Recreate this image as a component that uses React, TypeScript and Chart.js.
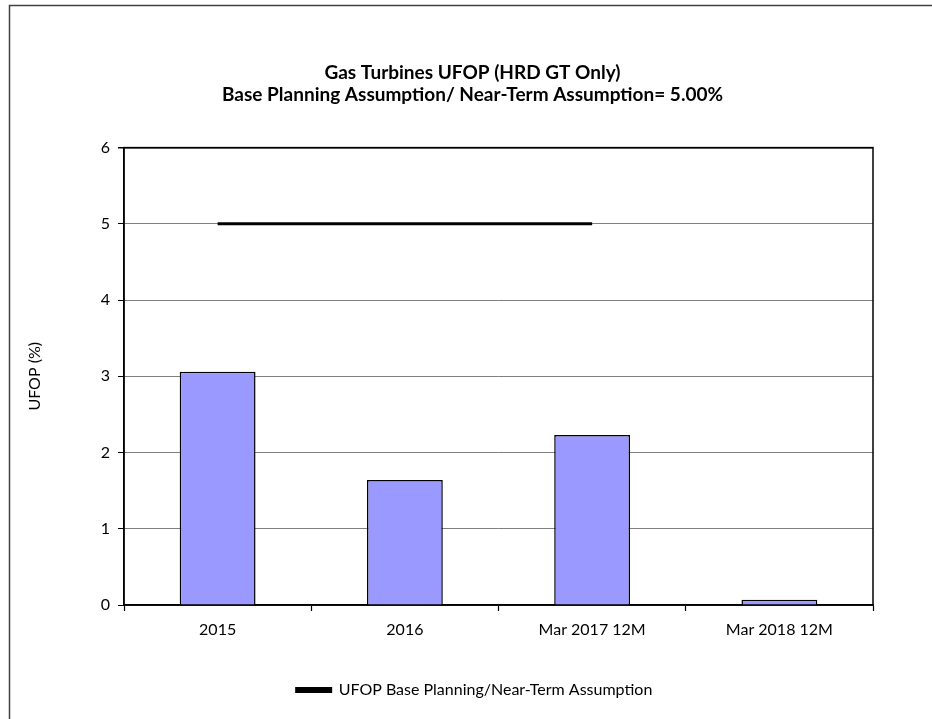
import React, { useEffect, useRef } from "react";
import { Chart, registerables } from "chart.js";

Chart.register(...registerables);

const categories = ["2015", "2016", "Mar 2017 12M", "Mar 2018 12M"];
const ufopValues = [3.06, 1.64, 2.23, 0.07];
const assumptionValues: (number | null)[] = [5, 5, 5, null];
const titleLines = [
  "Gas Turbines UFOP (HRD GT Only)",
  "Base Planning Assumption/ Near-Term Assumption= 5.00%",
];
const yTitle = "UFOP (%)";
const lineLabel = "UFOP Base Planning/Near-Term Assumption";

const FONT = "Lato, 'Open Sans', sans-serif";

const framePlugin = {
  id: "frame",
  afterLayout(chart: any) {
    if (chart.legend) {
      chart.legend.left += 28;
      chart.legend.right += 28;
    }
    if (chart.titleBlock) {
      chart.titleBlock.left += 26;
      chart.titleBlock.right += 26;
    }
  },
  beforeDraw(chart: any) {
    const ctx = chart.ctx;
    ctx.save();
    ctx.fillStyle = "#ffffff";
    ctx.fillRect(0, 0, chart.width, chart.height);
    ctx.strokeStyle = "#404040";
    ctx.lineWidth = 1.5;
    ctx.beginPath();
    ctx.moveTo(9.5, chart.height + 5);
    ctx.lineTo(9.5, 5.5);
    ctx.lineTo(chart.width + 5, 5.5);
    ctx.stroke();
    ctx.restore();
  },
  beforeDatasetsDraw(chart: any) {
    const { ctx, chartArea } = chart;
    ctx.save();
    ctx.strokeStyle = "#000000";
    ctx.lineWidth = 1.5;
    ctx.strokeRect(chartArea.left, chartArea.top, chartArea.right - chartArea.left, chartArea.bottom - chartArea.top);
    ctx.restore();
  },
};

export default function App() {
  const ref = useRef<HTMLCanvasElement | null>(null);
  useEffect(() => {
    if (!ref.current) return;
    const chart = new Chart(ref.current, {
      type: "bar",
      data: {
        labels: categories,
        datasets: [
          {
            type: "line",
            label: lineLabel,
            data: assumptionValues,
            borderColor: "#000000",
            backgroundColor: "#000000",
            borderWidth: 3,
            pointRadius: 0,
            spanGaps: false,
            order: 0,
          } as any,
          {
            type: "bar",
            label: "UFOP",
            data: ufopValues,
            backgroundColor: "#9999FF",
            borderColor: "#000000",
            borderWidth: 1.5,
            barPercentage: 0.405,
            categoryPercentage: 1,
            order: 1,
          } as any,
        ],
      },
      options: {
        animation: false,
        responsive: false,
        maintainAspectRatio: false,
        layout: { padding: { left: 20, right: 59, top: 4, bottom: 11 } },
        plugins: {
          title: {
            display: true,
            text: titleLines,
            color: "#000000",
            font: { family: FONT, size: 19, weight: "bold" },
            lineHeight: 1.3,
            padding: { top: 57, bottom: 41 },
          },
          legend: {
            display: true,
            position: "bottom",
            labels: {
              color: "#000000",
              font: { family: FONT, size: 16 },
              boxWidth: 34,
              boxHeight: 3,
              padding: 10,
              filter: (item: any) => item.text === lineLabel,
            },
          },
          tooltip: { enabled: false },
        },
        scales: {
          x: {
            offset: true,
            grid: {
              display: true,
              offset: true,
              drawOnChartArea: false,
              drawTicks: true,
              tickLength: 6,
              tickColor: "#000000",
              tickWidth: 1.2,
            },
            border: { display: true, color: "#000000", width: 1.5 },
            ticks: {
              color: "#000000",
              font: { family: FONT, size: 16 },
              padding: 9,
              maxRotation: 0,
            },
            afterFit: (scale: any) => {
              scale.height = 67;
            },
          } as any,
          y: {
            min: 0,
            max: 6,
            ticks: {
              stepSize: 1,
              color: "#000000",
              font: { family: FONT, size: 16 },
              padding: 8,
            },
            grid: {
              color: (ctx: any) => (ctx.tick && ctx.tick.value === 6 ? "#000000" : "#7f7f7f"),
              lineWidth: (ctx: any) => (ctx.tick && ctx.tick.value === 6 ? 1.5 : 1),
              tickLength: 6,
              tickColor: "#000000",
            },
            border: { display: true, color: "#000000", width: 1.5 },
            title: {
              display: true,
              text: yTitle,
              color: "#000000",
              font: { family: FONT, size: 16 },
              padding: { top: 5, bottom: 0 },
            },
            afterFit: (scale: any) => {
              scale.width = 104;
            },
          } as any,
        },
      },
      plugins: [framePlugin],
    });
    return () => chart.destroy();
  }, []);
  return (
    <div style={{ position: "fixed", left: 0, top: 0, width: 932, height: 719, background: "#fff" }}>
      <canvas ref={ref} width={932} height={719} style={{ width: 932, height: 719, display: "block" }} />
    </div>
  );
}
